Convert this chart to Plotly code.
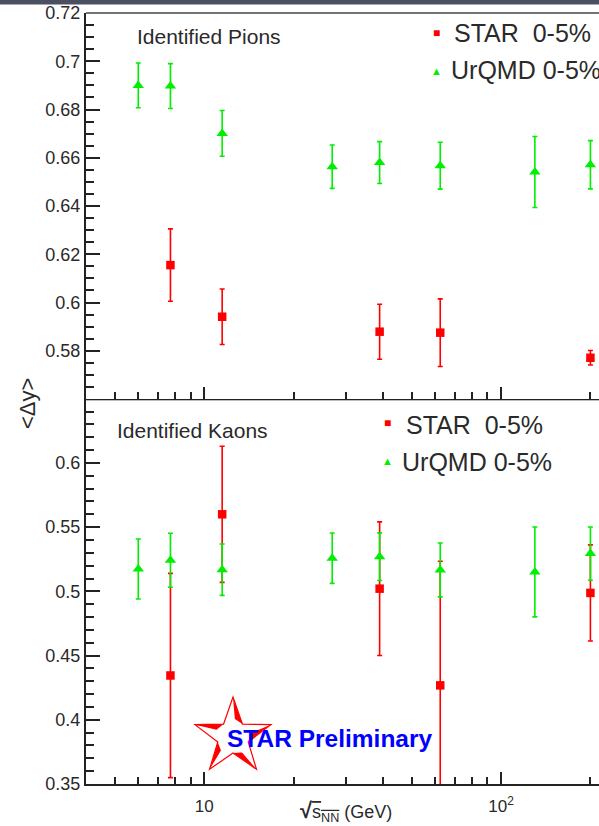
import math
import plotly.graph_objects as go

# ---------------- data ----------------
urqmd_energy = [6.0, 7.7, 11.5, 27, 39, 62.4, 130, 200]
star_energy = [7.7, 11.5, 39, 62.4, 200]

pion_urqmd = [0.690, 0.6897, 0.6701, 0.6563, 0.6580, 0.6567, 0.6541, 0.6571]
pion_urqmd_err = [0.0093, 0.0093, 0.0095, 0.0090, 0.0087, 0.0097, 0.0147, 0.0100]
pion_star = [0.6155, 0.5941, 0.5879, 0.5875, 0.5771]
pion_star_err = [0.0150, 0.0115, 0.0114, 0.0140, 0.0030]

kaon_urqmd = [0.5174, 0.5242, 0.5169, 0.5258, 0.5270, 0.5167, 0.5151, 0.5294]
kaon_urqmd_err = [0.0234, 0.0210, 0.0200, 0.0196, 0.0185, 0.0210, 0.0350, 0.0207]
kaon_star = [0.4345, 0.5600, 0.5021, 0.4268, 0.4988]
kaon_star_err = [0.0795, 0.0530, 0.0520, 0.0966, 0.0374]

pion_ticks = [0.58, 0.60, 0.62, 0.64, 0.66, 0.68, 0.70, 0.72]
pion_ticktext = ["0.58", "0.6", "0.62", "0.64", "0.66", "0.68", "0.7", "0.72"]
kaon_ticks = [0.35, 0.40, 0.45, 0.50, 0.55, 0.60]
kaon_ticktext = ["0.35", "0.4", "0.45", "0.5", "0.55", "0.6"]
x_ticks = [10, 100]
x_ticktext = ["10", "10<sup>2</sup>"]
x_minor = [5, 6, 7, 8, 9, 20, 30, 40, 50, 60, 70, 80, 90, 200]

# ---------------- layout helpers ----------------
W, H = 599, 826
def px(x):
    return x / W
def py(y):
    return 1 - y / H

RED = "#ff0000"
GREEN = "#00ee00"
AX = "#222222"
TXT = "#2a2a2a"
FONT = "Liberation Sans, Arial, Helvetica, sans-serif"

fig = go.Figure()

def add_series(x, y, err, color, symbol, size, xa, ya):
    fig.add_trace(go.Scatter(
        x=x, y=y, mode="markers", xaxis=xa, yaxis=ya, showlegend=False,
        marker=dict(symbol=symbol, size=size, color=color, line=dict(width=0)),
        error_y=dict(type="data", array=err, color=color, thickness=1.6, width=2.5),
    ))

add_series(star_energy, pion_star, pion_star_err, RED, "square", 8.5, "x", "y")
add_series(urqmd_energy, pion_urqmd, pion_urqmd_err, GREEN, "triangle-up", 10, "x", "y")
add_series(star_energy, kaon_star, kaon_star_err, RED, "square", 8.5, "x2", "y2")
add_series(urqmd_energy, kaon_urqmd, kaon_urqmd_err, GREEN, "triangle-up", 10, "x2", "y2")

xrange = [math.log10(4.0), 2 + (599 - 501) / 297]
xcommon = dict(
    type="log", range=xrange, domain=[px(86), 1],
    showline=True, linecolor=AX, linewidth=2, showgrid=False, zeroline=False,
    tickmode="array", tickvals=x_ticks, ticktext=x_ticktext,
    ticks="inside", ticklen=12, tickwidth=2, tickcolor=AX,
    minor=dict(tickmode="array", tickvals=x_minor, ticks="inside", ticklen=7,
               tickwidth=1.5, tickcolor=AX, showgrid=False),
    tickfont=dict(family=FONT, size=17, color=TXT),
)
ycommon = dict(
    showline=True, linecolor=AX, linewidth=2, showgrid=False, zeroline=False,
    ticks="inside", ticklen=14, tickwidth=2, tickcolor=AX,
    tickfont=dict(family=FONT, size=18, color=TXT), automargin=False,
)

fig.update_layout(
    width=W, height=H, margin=dict(l=0, r=0, t=0, b=0),
    paper_bgcolor="white", plot_bgcolor="white", showlegend=False,
    xaxis=dict(anchor="y", showticklabels=False, **xcommon),
    xaxis2=dict(anchor="y2", showticklabels=True, ticklabelstandoff=6, **xcommon),
    yaxis=dict(anchor="x", domain=[py(399), py(13)], range=[0.56, 0.72],
               tickmode="array", tickvals=pion_ticks, ticktext=pion_ticktext,
               minor=dict(tickmode="array",
                          tickvals=[round(0.56 + 0.005 * i, 3) for i in range(33)],
                          ticks="inside", ticklen=8, tickwidth=1.5, tickcolor=AX),
               **ycommon),
    yaxis2=dict(anchor="x2", domain=[py(784), py(400)], range=[0.35, 0.649],
                tickmode="array", tickvals=kaon_ticks, ticktext=kaon_ticktext,
                minor=dict(tickmode="array",
                           tickvals=[round(0.35 + 0.01 * i, 3) for i in range(30)],
                           ticks="inside", ticklen=8, tickwidth=1.5, tickcolor=AX),
                **ycommon),
)

shapes = []
# dark band at the very top
shapes.append(dict(type="rect", xref="paper", yref="paper", x0=0, x1=1,
                   y0=py(4.5), y1=1, fillcolor="#4a5062", line=dict(width=0), layer="above"))
# top frame line
shapes.append(dict(type="line", xref="paper", yref="paper", x0=px(86), x1=1,
                   y0=py(13), y1=py(13), line=dict(color="#444444", width=1.5)))
# thin separator at top of lower pad
shapes.append(dict(type="line", xref="paper", yref="paper", x0=px(86), x1=1,
                   y0=py(400.5), y1=py(400.5), line=dict(color="#bbbbbb", width=1)))

# STAR logo star (decoration): white star with red outline and red bevel wedges
CX, CY, R, r = 233, 737, 40, 16
def u(deg):
    a = math.radians(deg)
    return math.cos(a), math.sin(a)
def pt(rad, deg):
    c, s = u(deg)
    return (CX + rad * c, CY + rad * s)
def path_of(points):
    return "M " + " L ".join(f"{px(x):.5f},{py(y):.5f}" for x, y in points) + " Z"

outer = []
for i in range(10):
    outer.append(pt(R if i % 2 == 0 else r, -90 + 36 * i))
shapes.append(dict(type="path", xref="paper", yref="paper", path=path_of(outer),
                   fillcolor="white", line=dict(color=RED, width=1.2)))
for i in range(5):
    a = -90 + 72 * i
    tip = pt(R - 1, a)
    inner = pt(r, a + 36)
    mid = pt(0.45 * R, a + 6)
    shapes.append(dict(type="path", xref="paper", yref="paper",
                       path=path_of([tip, inner, mid]),
                       fillcolor=RED, line=dict(width=0)))
fig.update_layout(shapes=shapes)

ann = []
def text(x, y, s, size, color=TXT, anchor="left", angle=0):
    ann.append(dict(xref="paper", yref="paper", x=px(x), y=py(y), text=s,
                    showarrow=False, xanchor=anchor, yanchor="middle", textangle=angle,
                    font=dict(family=FONT, size=size, color=color)))

text(135, 36, "Identified Pions", 21)
text(115, 430, "Identified Kaons", 21)
# legends
text(452, 33, "STAR&nbsp;&nbsp;0-5%", 25)
text(449, 70, "UrQMD 0-5%", 25)
text(404, 425, "STAR&nbsp;&nbsp;0-5%", 25)
text(400, 462, "UrQMD 0-5%", 25)
text(436, 32.5, "■", 12, color=RED, anchor="center")
text(436, 71, "▲", 11, color=GREEN, anchor="center")
text(387, 423, "■", 12, color=RED, anchor="center")
text(387, 461, "▲", 11, color=GREEN, anchor="center")
# axis titles
text(27, 404, "&lt;Δy&gt;", 22, anchor="center", angle=-90)
text(298, 811, "<b><span style='font-size:22px'>√</span></b><span style='text-decoration:overline'>s<sub>NN</sub></span> (GeV)", 18)
# preliminary label
text(225, 738, "<b>STAR Preliminary</b>", 24.5, color="#0000ff")
fig.update_layout(annotations=ann)

fig.write_html("out.html")
